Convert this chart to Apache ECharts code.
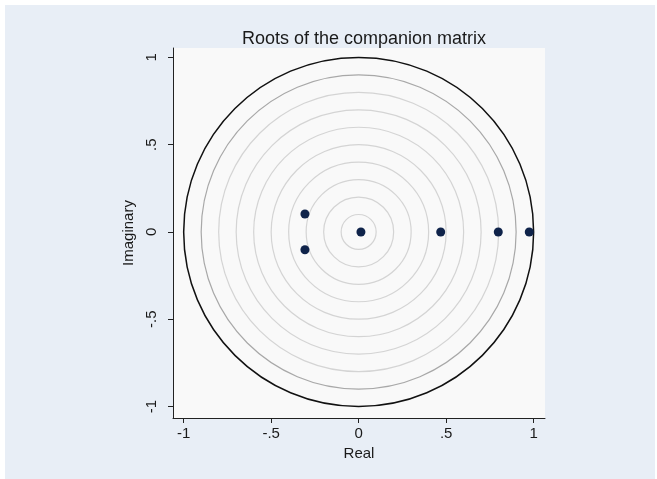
<!DOCTYPE html>
<html><head><meta charset="utf-8">
<script src="https://cdn.jsdelivr.net/npm/echarts@6/dist/echarts.min.js"></script>
<style>html,body{margin:0;padding:0;background:#fff}#c{width:657px;height:479px}</style>
</head><body><div id="c"></div>
<script>
// Roots of the companion matrix
const realParts = [0.013, 0.469, 0.798, 0.975, -0.307, -0.307];
const imagParts = [0.0, 0.0, 0.0, 0.0, 0.103, -0.102];
// reference circles (radius)
const circleRadii = [0.1, 0.2, 0.3, 0.4, 0.5, 0.6, 0.7, 0.8, 0.9, 1.0];
const tickValues = [-1, -0.5, 0, 0.5, 1];
const tickLabels = ['-1', '-.5', '0', '.5', '1'];

const fmt = v => { const i = tickValues.findIndex(t => Math.abs(t - v) < 1e-9); return i >= 0 ? tickLabels[i] : ''; };
const font = 'Liberation Sans, Arial, sans-serif';

const chart = echarts.init(document.getElementById('c'), null, {renderer: 'canvas'});
chart.setOption({
  animation: false,
  backgroundColor: 'transparent',
  graphic: [{type: 'rect', z: -100, shape: {x: 5, y: 5, width: 650, height: 474}, style: {fill: '#e8eef6'}}],
  title: {text: 'Roots of the companion matrix', left: 359, textAlign: 'center', top: 25,
    textStyle: {fontFamily: font, fontSize: 18, fontWeight: 'normal', color: '#1a1a1a'}},
  grid: {left: 173, right: 112, top: 48, bottom: 61, show: true, backgroundColor: '#f9f9f9', borderWidth: 0},
  xAxis: {type: 'value', min: -1.061, max: 1.065,
    name: 'Real', nameLocation: 'middle', nameGap: 28,
    nameTextStyle: {fontFamily: font, fontSize: 15, color: '#1a1a1a'},
    axisLine: {show: true, onZero: false, lineStyle: {color: '#222', width: 1}},
    axisTick: {show: true, length: 5, customValues: tickValues, lineStyle: {color: '#222'}},
    axisLabel: {customValues: tickValues, formatter: fmt, margin: 8, fontFamily: font, fontSize: 15, color: '#1a1a1a'},
    splitLine: {show: false}},
  yAxis: {type: 'value', min: -1.066, max: 1.054,
    name: 'Imaginary', nameLocation: 'middle', nameRotate: 90, nameGap: 31,
    nameTextStyle: {fontFamily: font, fontSize: 15, color: '#1a1a1a'},
    axisLine: {show: true, onZero: false, lineStyle: {color: '#222', width: 1}},
    axisTick: {show: true, length: 5, customValues: tickValues, lineStyle: {color: '#222'}},
    axisLabel: {customValues: tickValues, formatter: fmt, rotate: 90, margin: 14, fontFamily: font, fontSize: 15, color: '#1a1a1a'},
    splitLine: {show: false}},
  series: [
    {type: 'custom', coordinateSystem: 'cartesian2d', silent: true,
      data: circleRadii.map(r => [0, 0, r]),
      encode: {x: 0, y: 1},
      renderItem: function (params, api) {
        const c = api.coord([api.value(0), api.value(1)]);
        const r = api.value(2);
        const rx = api.size([r, 0])[0];
        const ry = api.size([0, r])[1];
        const color = r >= 0.999 ? '#111' : (r > 0.85 ? '#a8a8a8' : '#d4d4d4');
        const w = r >= 0.999 ? 1.5 : 1.2;
        return {type: 'ellipse', shape: {cx: c[0], cy: c[1], rx: rx, ry: ry},
          style: {fill: null, stroke: color, lineWidth: w}};
      }, z: 1},
    {type: 'scatter', data: realParts.map((x, i) => [x, imagParts[i]]),
      symbol: 'circle', symbolSize: 9, itemStyle: {color: '#0f234a', opacity: 1}, z: 3}
  ]
});
</script></body></html>
